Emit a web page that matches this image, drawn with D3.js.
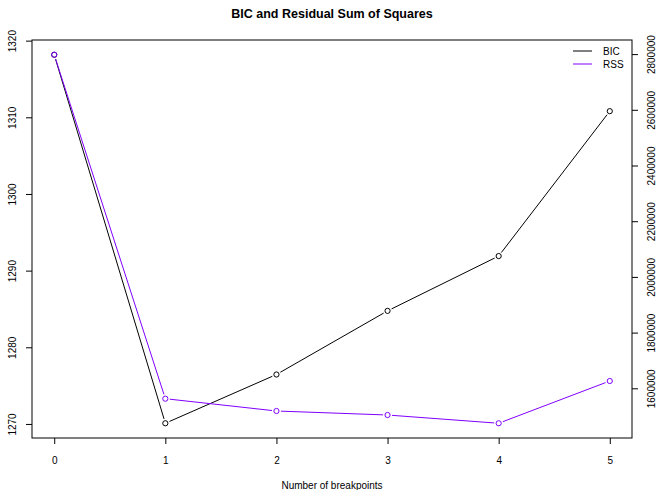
<!DOCTYPE html>
<html>
<head>
<meta charset="utf-8">
<script src="https://cdn.jsdelivr.net/npm/d3@7"></script>
<style>
  html, body { margin: 0; padding: 0; background: #fff; }
  svg { display: block; }
  text { font-family: "Liberation Sans", Arial, Helvetica, sans-serif; fill: #000; }
</style>
</head>
<body>
<script>
// ---- data ----
const breakpoints = [0, 1, 2, 3, 4, 5];
const bicValues = [1318.16, 1270.09, 1276.45, 1284.75, 1291.9, 1310.8];
const rssValues = [2797700, 1562700, 1518500, 1504100, 1474500, 1626200];
const xTicks = [0, 1, 2, 3, 4, 5];
const bicTicks = [1270, 1280, 1290, 1300, 1310, 1320];
const rssTicks = [1600000, 1800000, 2000000, 2200000, 2400000, 2600000, 2800000];
const legendLabels = ["BIC", "RSS"];
const seriesColors = ["#000000", "#7f00ff"];
const titleText = "BIC and Residual Sum of Squares";
const xLabel = "Number of breakpoints";

// ---- layout ----
const W = 658, H = 490;
const plot = { left: 32, right: 632, top: 40, bottom: 438 };

function rExtend(lo, hi) { const r = hi - lo; return [lo - 0.04 * r, hi + 0.04 * r]; }

const x = d3.scaleLinear().domain(rExtend(d3.min(breakpoints), d3.max(breakpoints))).range([plot.left, plot.right]);
const yL = d3.scaleLinear().domain(rExtend(d3.min(bicValues), d3.max(bicValues))).range([plot.bottom, plot.top]);
const yR = d3.scaleLinear().domain(rExtend(d3.min(rssValues), d3.max(rssValues))).range([plot.bottom, plot.top]);

const svg = d3.select("body").append("svg").attr("width", W).attr("height", H);

// title
svg.append("text").attr("x", (plot.left + plot.right) / 2).attr("y", 18)
  .attr("text-anchor", "middle").attr("font-size", "12.5px").attr("font-weight", "bold")
  .text(titleText);

// axes
const tickLen = 6;
const gx = svg.append("g").attr("transform", `translate(0,${plot.bottom})`)
  .call(d3.axisBottom(x).tickValues(xTicks).tickSize(tickLen).tickPadding(12).tickFormat(d3.format("d")));
const gl = svg.append("g").attr("transform", `translate(${plot.left},0)`)
  .call(d3.axisLeft(yL).tickValues(bicTicks).tickSize(tickLen).tickFormat(d3.format("d")));
const gr = svg.append("g").attr("transform", `translate(${plot.right},0)`)
  .call(d3.axisRight(yR).tickValues(rssTicks).tickSize(tickLen).tickFormat(d3.format("d")));

[gx, gl, gr].forEach(g => {
  g.select(".domain").remove();
  g.selectAll(".tick line").attr("stroke", "#000").attr("stroke-width", 1);
  g.selectAll(".tick text").attr("font-size", "10px").attr("fill", "#000")
    .attr("font-family", "Liberation Sans, Arial, sans-serif");
});
gx.selectAll(".tick text").attr("dy", "0.71em").attr("y", 19);

// rotated y tick labels (R style, parallel to axis)
gl.selectAll(".tick text")
  .attr("x", null).attr("dy", null)
  .attr("text-anchor", "middle")
  .attr("transform", "translate(-16,0) rotate(-90)")
  .attr("y", 0);
gr.selectAll(".tick text")
  .attr("x", null).attr("dy", null)
  .attr("text-anchor", "middle")
  .attr("transform", "translate(23,0) rotate(-90)")
  .attr("y", 0);

// box
svg.append("rect").attr("x", plot.left).attr("y", plot.top)
  .attr("width", plot.right - plot.left).attr("height", plot.bottom - plot.top)
  .attr("fill", "none").attr("stroke", "#000").attr("stroke-width", 1);

// x label
svg.append("text").attr("x", (plot.left + plot.right) / 2).attr("y", 489)
  .attr("text-anchor", "middle").attr("font-size", "10px").text(xLabel);

// series, drawn as R type="b" (lines with gaps around points)
function drawSeries(values, yScale, color) {
  const pts = breakpoints.map((b, i) => [x(b), yScale(values[i])]);
  const gap = 4.5;
  const g = svg.append("g");
  for (let i = 0; i < pts.length - 1; i++) {
    const [x0, y0] = pts[i], [x1, y1] = pts[i + 1];
    const len = Math.hypot(x1 - x0, y1 - y0);
    if (len <= 2 * gap) continue;
    const ux = (x1 - x0) / len, uy = (y1 - y0) / len;
    g.append("line")
      .attr("x1", x0 + ux * gap).attr("y1", y0 + uy * gap)
      .attr("x2", x1 - ux * gap).attr("y2", y1 - uy * gap)
      .attr("stroke", color).attr("stroke-width", 1);
  }
  g.selectAll("circle").data(pts).join("circle")
    .attr("cx", d => d[0]).attr("cy", d => d[1]).attr("r", 2.6)
    .attr("fill", "none").attr("stroke", color).attr("stroke-width", 1);
}
drawSeries(bicValues, yL, seriesColors[0]);
drawSeries(rssValues, yR, seriesColors[1]);

// legend
const leg = svg.append("g");
legendLabels.forEach((lab, i) => {
  const yy = 51 + i * 13;
  leg.append("line").attr("x1", 573).attr("x2", 592).attr("y1", yy).attr("y2", yy)
    .attr("stroke", seriesColors[i]).attr("stroke-width", 1);
  leg.append("text").attr("x", 603).attr("y", yy).attr("dy", "0.35em")
    .attr("font-size", "10px").text(lab);
});
</script>
</body>
</html>
